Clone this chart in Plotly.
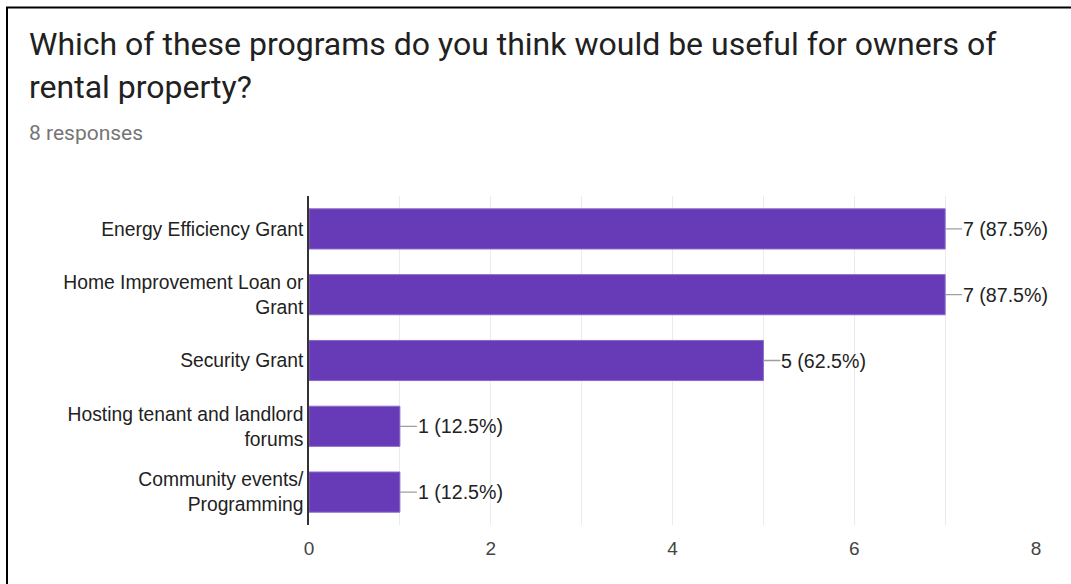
import plotly.graph_objects as go

categories = [
    "Energy Efficiency Grant",
    "Home Improvement Loan or<br>Grant",
    "Security Grant",
    "Hosting tenant and landlord<br>forums",
    "Community events/<br>Programming",
]
counts = [7, 7, 5, 1, 1]
total_responses = 8
value_labels = [f"{c} ({c / total_responses * 100:.1f}%)" for c in counts]
x_ticks = [0, 2, 4, 6, 8]

W, H = 1071, 584
L, R, T, B = 309, 1036, 196, 525


def px(x):
    return (x - L) / (R - L)


def py(y):
    return (B - y) / (B - T)


fig = go.Figure()
fig.add_trace(go.Bar(
    y=categories,
    x=counts,
    orientation="h",
    marker=dict(color="#673AB7", line=dict(color="#8a68c9", width=1)),
    hoverinfo="skip",
))

for cat, val, lab in zip(categories, counts, value_labels):
    fig.add_annotation(
        x=val, y=cat, xref="x", yref="y",
        text=lab, showarrow=True, arrowhead=0, arrowwidth=1.3,
        arrowcolor="#9e9e9e", ax=17, ay=0, xanchor="left",
        borderpad=0,
        font=dict(family="Liberation Sans, Arial", size=19.6, color="#222222"),
    )

title_font = dict(family="Roboto", size=32, color="#212121")
fig.add_annotation(x=px(27), y=py(44), xref="paper", yref="paper",
                   text="Which of these programs do you think would be useful for owners of",
                   showarrow=False, xanchor="left", yanchor="middle", font=title_font)
fig.add_annotation(x=px(27), y=py(87), xref="paper", yref="paper",
                   text="rental property?",
                   showarrow=False, xanchor="left", yanchor="middle", font=title_font)
fig.add_annotation(x=px(27), y=py(133), xref="paper", yref="paper",
                   text="8 responses",
                   showarrow=False, xanchor="left", yanchor="middle",
                   font=dict(family="Roboto", size=21, color="#757575"))

# frame border (top and left)
fig.add_shape(type="line", xref="paper", yref="paper",
              x0=px(6), x1=px(W + 5), y0=py(7.5), y1=py(7.5),
              line=dict(color="black", width=2))
fig.add_shape(type="line", xref="paper", yref="paper",
              x0=px(7), x1=px(7), y0=py(7), y1=py(H + 5),
              line=dict(color="black", width=2))

fig.update_layout(
    width=W, height=H,
    margin=dict(l=L, r=W - R, t=T, b=H - B, pad=0),
    paper_bgcolor="white", plot_bgcolor="white",
    showlegend=False,
    bargap=0.39,
    font=dict(family="Liberation Sans, Arial", size=19.3, color="#222222"),
    xaxis=dict(
        range=[0, 8], tickvals=x_ticks, showgrid=True, gridcolor="#ebebeb",
        gridwidth=1, zeroline=False, showline=False,
        minor=dict(dtick=1, showgrid=True, gridcolor="#ebebeb", gridwidth=1),
        tickfont=dict(size=19, color="#444444"), ticks="outside", ticklen=6,
        tickcolor="rgba(0,0,0,0)", fixedrange=True,
    ),
    yaxis=dict(
        autorange="reversed", showline=True, linecolor="#333333", linewidth=1.5,
        showgrid=False, ticks="",
        tickfont=dict(size=19.3, color="#222222"), fixedrange=True,
    ),
)

fig.write_html(
    "out.html",
    config={"displayModeBar": False},
    post_script="document.body.style.margin='0';",
)
